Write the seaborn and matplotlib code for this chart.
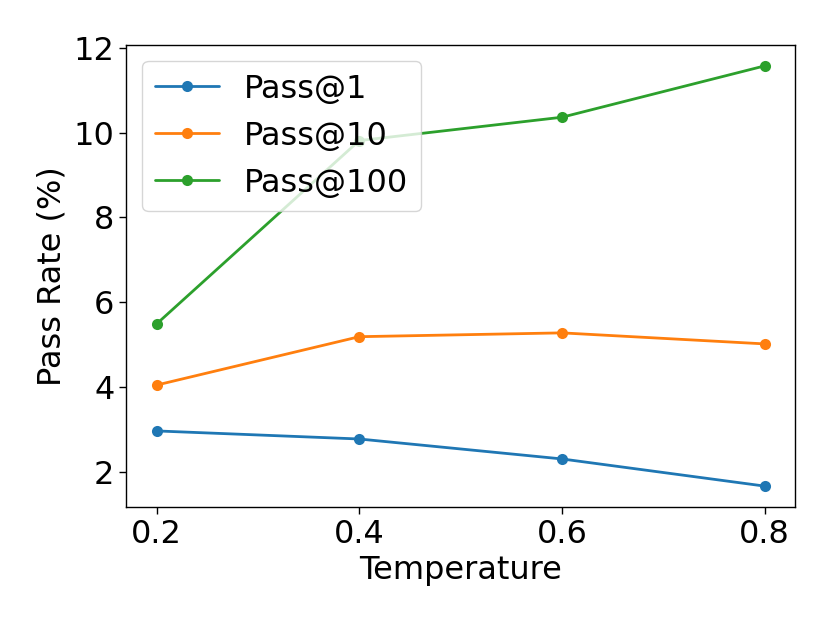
import pandas as pd
import matplotlib
matplotlib.use('Agg')
import matplotlib.pyplot as plt
import seaborn as sns

# values
temperature = [0.2, 0.4, 0.6, 0.8]
pass_at_1 = [2.97, 2.78, 2.31, 1.67]
pass_at_10 = [4.05, 5.19, 5.28, 5.02]
pass_at_100 = [5.49, 9.81, 10.36, 11.57]
series_names = ['Pass@1', 'Pass@10', 'Pass@100']

sns.set_theme(style='ticks')
plt.rcParams['font.family'] = ['DejaVu Sans']
plt.rcParams['text.color'] = 'black'
plt.rcParams['axes.labelcolor'] = 'black'

df = pd.DataFrame({
    'Temperature': temperature * 3,
    'Pass Rate': pass_at_1 + pass_at_10 + pass_at_100,
    'Series': [s for s in series_names for _ in temperature],
})

fig = plt.figure(figsize=(8.3, 6.23), dpi=100)
ax = fig.add_axes([0.152, 0.186, 0.806, 0.742])

sns.lineplot(data=df, x='Temperature', y='Pass Rate', hue='Series',
             hue_order=series_names, palette=['#1f77b4', '#ff7f0e', '#2ca02c'],
             marker='o', markersize=8, markeredgewidth=0, linewidth=2, ax=ax)

ax.set_xticks(temperature)
ax.set_xticklabels(['0.2', '0.4', '0.6', '0.8'])
ax.set_yticks([2, 4, 6, 8, 10, 12])
ax.tick_params(labelsize=23, length=5, width=1, colors='black')
ax.set_xlabel('Temperature', fontsize=23)
ax.set_ylabel('Pass Rate (%)', fontsize=23)
for sp in ax.spines.values():
    sp.set_color('black')
    sp.set_linewidth(1)

ax.legend(loc='upper left', fontsize=23, frameon=True, framealpha=0.8,
          edgecolor='#cccccc', handlelength=2.0, borderaxespad=0.5)

fig.savefig('out.png', dpi=100)
